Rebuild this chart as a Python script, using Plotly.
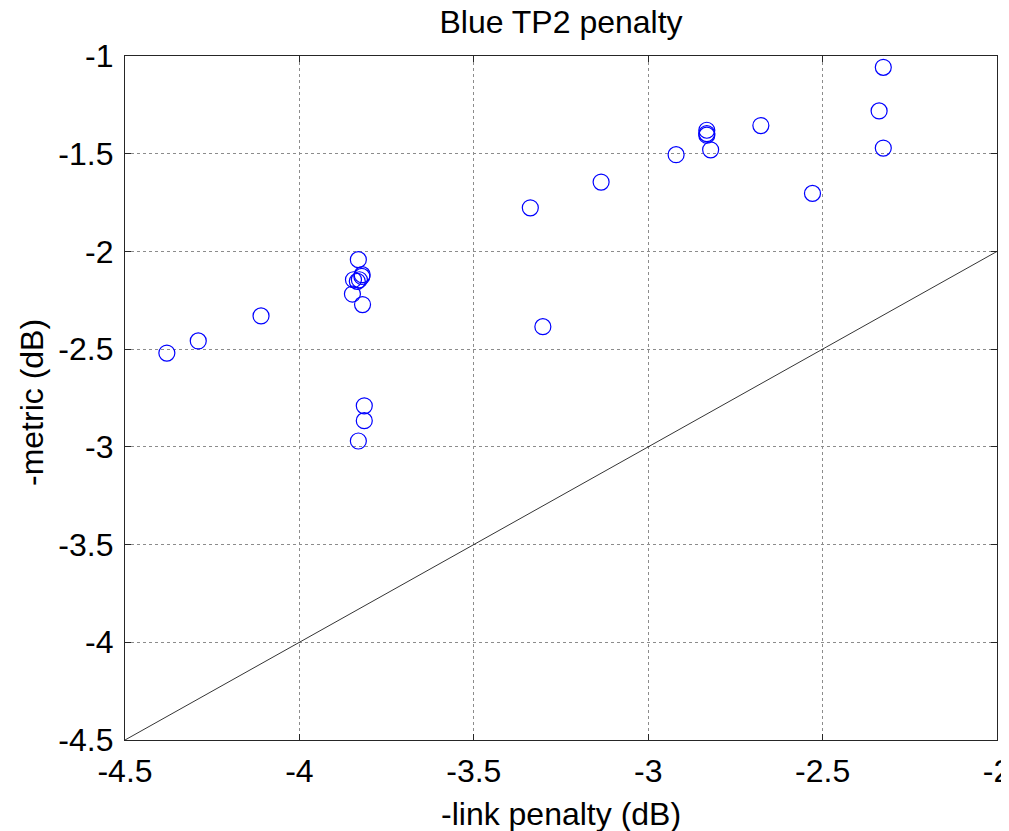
import plotly.graph_objects as go

# Data
link_penalty = [-4.38, -4.29, -4.11,
                -3.831, -3.820, -3.821, -3.828, -3.834, -3.845, -3.848, -3.819,
                -3.814, -3.814, -3.831,
                -3.338, -3.135, -3.302,
                -2.920, -2.832, -2.832, -2.832, -2.821, -2.677, -2.529,
                -2.338, -2.326, -2.326]
metric = [-2.52, -2.458, -2.33,
          -2.042, -2.119, -2.128, -2.145, -2.153, -2.145, -2.218, -2.272,
          -2.79, -2.866, -2.97,
          -1.777, -1.645, -2.385,
          -1.505, -1.38, -1.397, -1.405, -1.48, -1.356, -1.703,
          -1.281, -1.471, -1.058]
ref_line = [-4.5, -2.0]
x_ticks = [-4.5, -4, -3.5, -3, -2.5, -2]
y_ticks = [-4.5, -4, -3.5, -3, -2.5, -2, -1.5, -1]
tick_text_x = ["-4.5", "-4", "-3.5", "-3", "-2.5", "-2"]
tick_text_y = ["-4.5", "-4", "-3.5", "-3", "-2.5", "-2", "-1.5", "-1"]

FONT = "Liberation Sans, Arial, sans-serif"
FS = 32

# The page body has an 8px default margin, so the figure is sized to fit.
W, H = 1001, 823
ML, MR, MT, MB = 117, 12, 48, 91

fig = go.Figure()
fig.add_trace(go.Scatter(x=ref_line, y=ref_line, mode="lines",
                         line=dict(color="black", width=0.8), hoverinfo="skip"))
fig.add_trace(go.Scatter(x=link_penalty, y=metric, mode="markers",
                         marker=dict(symbol="circle-open", size=16, color="#0000ff",
                                     line=dict(width=1.2, color="#0000ff"))))

axis_common = dict(
    showgrid=True, gridcolor="#8c8c8c", griddash="dot", gridwidth=1,
    showline=True, linecolor="#262626", linewidth=1.2, mirror="ticks",
    ticks="inside", ticklen=6, tickcolor="#262626", tickwidth=1,
    zeroline=False, automargin=False, ticklabeloverflow="allow",
    tickfont=dict(family=FONT, size=FS, color="black"),
)
fig.update_xaxes(range=[-4.5, -2], tickvals=x_ticks, ticktext=tick_text_x,
                 ticklabelstandoff=2, **axis_common)
fig.update_yaxes(range=[-4.5, -1], tickvals=y_ticks, ticktext=tick_text_y,
                 ticklabelstandoff=4, **axis_common)

fig.update_layout(
    width=W, height=H,
    margin=dict(l=ML, r=MR, t=MT, b=MB, autoexpand=False),
    plot_bgcolor="white", paper_bgcolor="white",
    showlegend=False,
    font=dict(family=FONT, size=FS, color="black"),
    title=dict(text="Blue TP2 penalty", x=(ML + (W - MR)) / 2 / W, xanchor="center",
               y=1 - 14 / H, yanchor="middle", yref="container", automargin=False,
               font=dict(family=FONT, size=FS, color="black")),
    annotations=[
        dict(text="-link penalty (dB)", xref="paper", yref="paper", x=0.5, y=0,
             yshift=-74, yanchor="middle", showarrow=False,
             font=dict(family=FONT, size=FS, color="black")),
        dict(text="-metric (dB)", xref="paper", yref="paper", x=0, y=0.5,
             xshift=-93, yshift=-5, xanchor="center", yanchor="middle",
             textangle=-90, showarrow=False,
             font=dict(family=FONT, size=FS, color="black")),
    ],
)

fig.write_html("out.html")
